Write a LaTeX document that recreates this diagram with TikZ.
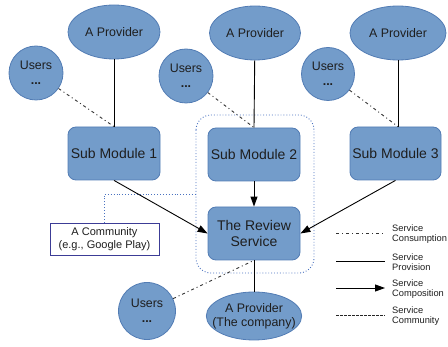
\documentclass[tikz,border=0pt]{standalone}
\usepackage{fontspec}
\setmainfont{Liberation Sans}
\usetikzlibrary{shapes.geometric,arrows.meta}
\definecolor{boxfill}{RGB}{115,156,202}
\definecolor{boxline}{RGB}{82,124,180}
\definecolor{commline}{RGB}{74,114,192}
\definecolor{commbox}{RGB}{60,60,150}
\definecolor{txt}{RGB}{30,30,30}
\tikzset{
  provider/.style={ellipse,fill=boxfill,draw=boxline,line width=0.8pt,inner sep=0pt,
    text=txt,font=\fontsize{12.4}{14}\selectfont,align=center},
  users/.style={circle,fill=boxfill,draw=boxline,line width=0.8pt,inner sep=0pt,
    text=txt,font=\fontsize{12.4}{15}\selectfont,align=center},
  module/.style={rectangle,rounded corners=8pt,fill=boxfill,draw=boxline,line width=0.8pt,
    minimum width=92pt,minimum height=53pt,inner sep=0pt,text=txt,
    font=\fontsize{14}{16.5}\selectfont,align=center},
  provision/.style={line width=0.9pt,black},
  consume/.style={line width=0.9pt,black!80,dash pattern=on 3pt off 3pt on 1pt off 3pt},
  compose/.style={line width=0.9pt,black,-{Triangle[length=10pt,width=7pt]}},
  community/.style={line width=0.9pt,commline,dotted},
  legendtxt/.style={anchor=west,align=left,text=txt,font=\fontsize{9.3}{10.5}\selectfont,inner sep=0pt}
}
\begin{document}
\begin{tikzpicture}[x=1pt,y=-1pt]
\useasboundingbox (0,0) rectangle (448,347);

% service community frame
\draw[community,rounded corners=15pt] (196,115) rectangle (314,273);
\coordinate (commedge) at (196,194);

% providers
\node[provider,minimum width=92pt,minimum height=54pt] (p1) at (114,32) {A Provider};
\node[provider,minimum width=91pt,minimum height=54pt] (p2) at (255,33) {A Provider};
\node[provider,minimum width=96pt,minimum height=54pt] (p3) at (398,33) {A Provider};
\node[provider,inner xsep=-8pt,inner ysep=-2pt,minimum width=92pt,minimum height=48pt] (p4) at (254,316) {A Provider\\(The company)};

% users
\node[users,minimum size=54pt] (u1) at (36,73) {Users\\\textbf{...}};
\node[users,minimum size=54pt] (u2) at (186,76) {Users\\\textbf{...}};
\node[users,minimum size=53pt] (u3) at (328,74) {Users\\\textbf{...}};
\node[users,minimum size=57pt] (u4) at (147,311) {Users\\\textbf{...}};

% modules
\node[module] (s1) at (114,153.5) {Sub Module 1};
\node[module] (s2) at (254,154.5) {Sub Module 2};
\node[module,minimum width=91pt] (s3) at (395.5,153.5) {Sub Module 3};
\node[module] (rv) at (254,233.5) {The Review\\Service};

% community label
\node[draw=commbox,line width=0.8pt,fill=white,minimum width=109pt,minimum height=32pt,inner sep=0pt,
  text=txt,font=\fontsize{11}{13}\selectfont,align=center] (cm) at (104.5,239)
  {A Community\\(e.g., Google Play)};
\draw[community] (cm.north) |- (commedge);

% provision
\draw[provision] (p1) -- (s1.north);
\draw[provision] (p2) -- (s2.north);
\draw[provision] (p3.south) -- (s3.north -| p3.south);
\draw[provision] (rv.south) -- (p4);

% consumption
\draw[consume] (u1) -- (s1.north);
\draw[consume] (u2) -- (s2.north);
\draw[consume] (u3) -- (s3.north -| p3.south);
\draw[consume] (u4) -- (rv.south);

% composition
\draw[compose] (s1.south) -- (rv.west);
\draw[compose] (s2.south) -- (rv.north);
\draw[compose] (s3.south) -- (rv.east);

% legend
\coordinate (la1) at (336,233); \coordinate (lb1) at (385,233);
\coordinate (la2) at (336,261); \coordinate (lb2) at (385,261);
\coordinate (la3) at (336,288); \coordinate (lb3) at (385,288);
\coordinate (la4) at (336,315); \coordinate (lb4) at (385,315);
\draw[consume] (la1) -- (lb1);
\draw[provision] (la2) -- (lb2);
\draw[compose] (la3) -- (lb3);
\draw[line width=0.9pt,black!85,dash pattern=on 2.5pt off 1.5pt] (la4) -- (lb4);
\node[legendtxt] (t1) at (392,234) {Service\\Consumption};
\node[legendtxt] (t2) at (392,262) {Service\\Provision};
\node[legendtxt] (t3) at (392,289) {Service\\Composition};
\node[legendtxt] (t4) at (392,316) {Service\\Community};
\end{tikzpicture}
\end{document}
